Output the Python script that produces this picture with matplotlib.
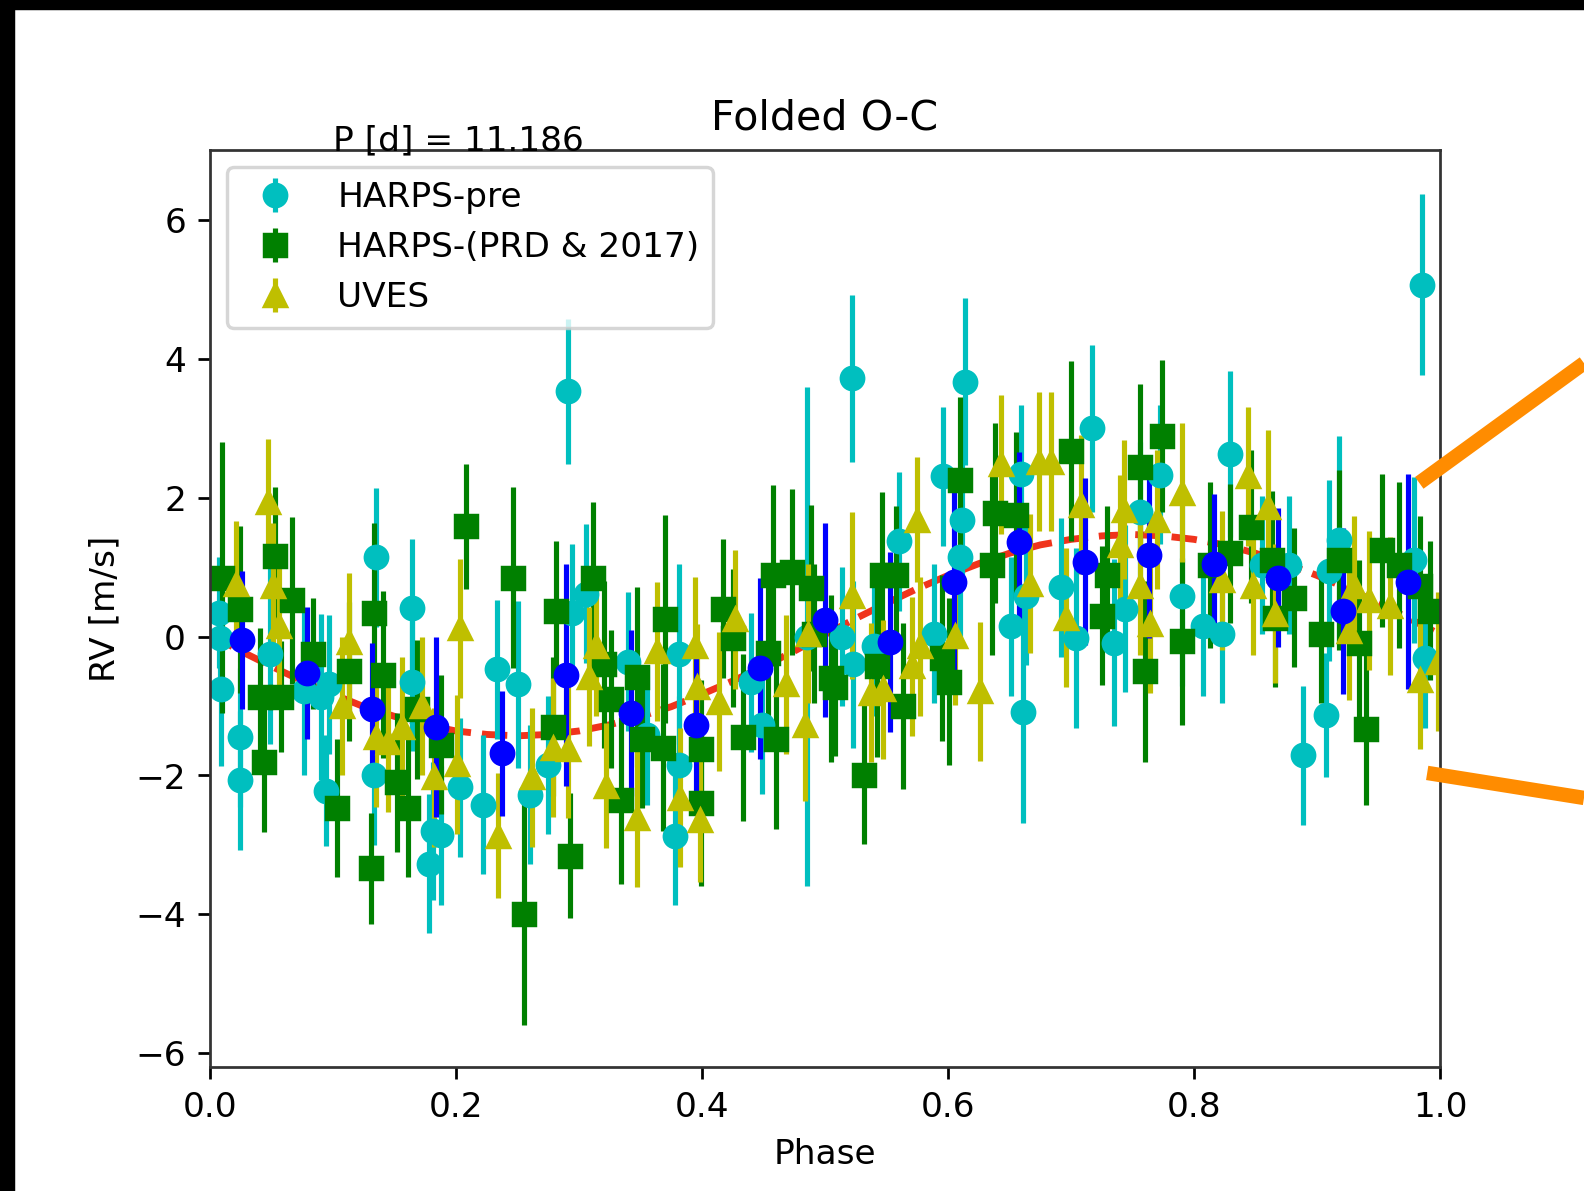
import numpy as np
import matplotlib
matplotlib.use("Agg")
import matplotlib.pyplot as plt
from matplotlib.patches import Rectangle
from matplotlib.lines import Line2D

# HARPS-pre (phase, O-C rv, error)
harps_pre_phase = [0.007, 0.008, 0.009, 0.024, 0.024, 0.049, 0.076, 0.090, 0.097, 0.094,
                   0.135, 0.133, 0.164, 0.164, 0.181, 0.188, 0.178, 0.203, 0.222, 0.233,
                   0.250, 0.260, 0.275, 0.291, 0.294, 0.306, 0.340, 0.355, 0.378, 0.381,
                   0.381, 0.440, 0.449, 0.485, 0.514, 0.523, 0.522, 0.540, 0.560, 0.589,
                   0.596, 0.611, 0.610, 0.614, 0.651, 0.661, 0.663, 0.659, 0.692, 0.704,
                   0.717, 0.735, 0.744, 0.756, 0.772, 0.790, 0.807, 0.823, 0.829, 0.855,
                   0.877, 0.889, 0.907, 0.910, 0.918, 0.979, 0.985, 0.988]
harps_pre_rv = [0.34, -0.02, -0.76, -1.45, -2.07, -0.25, -0.79, -0.87, -0.69, -2.22,
                1.14, -2.00, 0.41, -0.65, -2.80, -2.86, -3.27, -2.17, -2.42, -0.47,
                -0.69, -2.28, -1.85, 3.53, 0.34, 0.62, -0.36, -1.42, -2.87, -0.25,
                -1.85, -0.66, -1.27, 0.00, 0.00, -0.40, 3.72, -0.14, 1.37, 0.04,
                2.31, 1.68, 1.14, 3.67, 0.15, -1.08, 0.59, 2.34, 0.71, -0.02,
                3.00, -0.09, 0.40, 1.80, 2.33, 0.59, 0.15, 0.04, 2.63, 1.03,
                1.03, -1.71, -1.13, 0.95, 1.39, 1.10, 5.07, -0.31]
harps_pre_err = [0.8, 0.8, 1.1, 1.0, 1.0, 1.3, 1.2, 1.2, 1.0, 0.8,
                 1.0, 1.0, 1.0, 1.0, 1.0, 1.0, 1.0, 1.0, 1.0, 1.0,
                 1.2, 1.0, 1.0, 1.05, 1.0, 1.0, 1.0, 1.0, 1.0, 1.3,
                 1.0, 1.0, 1.0, 3.6, 1.0, 1.2, 1.2, 1.0, 1.0, 1.0,
                 1.0, 1.0, 1.2, 1.2, 1.0, 1.6, 1.0, 1.0, 1.0, 1.3,
                 1.2, 1.2, 1.2, 1.0, 1.0, 1.3, 1.0, 1.0, 1.2, 1.0,
                 1.0, 1.0, 0.9, 1.3, 1.5, 1.2, 1.3, 1.0]

# HARPS-(PRD & 2017)
harps_new_phase = [0.010, 0.024, 0.041, 0.044, 0.053, 0.058, 0.067, 0.084, 0.103, 0.113,
                   0.131, 0.133, 0.141, 0.152, 0.161, 0.168, 0.188, 0.208, 0.246, 0.255,
                   0.279, 0.281, 0.293, 0.311, 0.320, 0.326, 0.334, 0.347, 0.351, 0.368,
                   0.370, 0.399, 0.399, 0.417, 0.425, 0.433, 0.454, 0.458, 0.460, 0.473,
                   0.489, 0.491, 0.505, 0.508, 0.532, 0.542, 0.546, 0.558, 0.563, 0.595,
                   0.601, 0.610, 0.636, 0.638, 0.655, 0.700, 0.725, 0.729, 0.756, 0.760,
                   0.774, 0.790, 0.813, 0.829, 0.846, 0.863, 0.866, 0.881, 0.903, 0.918,
                   0.934, 0.940, 0.953, 0.967, 0.984, 0.992]
harps_new_rv = [0.85, 0.39, -0.87, -1.81, 1.16, -0.87, 0.52, -0.25, -2.47, -0.50,
                -3.34, 0.34, -0.55, -2.10, -2.47, -1.05, -1.56, 1.59, 0.85, -3.99,
                -1.30, 0.37, -3.16, 0.84, -0.40, -0.90, -2.36, -0.58, -1.47, -1.60,
                0.25, -1.62, -2.40, 0.40, -0.02, -1.45, -0.24, 0.88, -1.47, 0.93,
                0.70, 0.04, -0.60, -0.72, -1.99, -0.43, 0.88, 0.88, -1.00, -0.31,
                -0.65, 2.25, 1.03, 1.78, 1.75, 2.67, 0.30, 0.88, 2.44, -0.50,
                2.89, -0.07, 1.03, 1.20, 1.58, 1.10, 0.27, 0.56, 0.04, 1.10,
                -0.10, -1.33, 1.24, 1.03, 0.73, 0.37]
harps_new_err = [1.95, 1.2, 1.0, 1.0, 1.0, 0.8, 1.2, 0.8, 1.0, 1.0,
                 0.8, 1.3, 1.2, 1.0, 1.0, 1.0, 1.0, 0.9, 1.3, 1.6,
                 1.0, 1.0, 0.9, 1.1, 1.2, 1.0, 1.2, 1.3, 1.0, 1.2,
                 1.5, 1.0, 1.2, 1.0, 1.0, 1.2, 1.2, 1.3, 1.3, 1.2,
                 1.2, 1.0, 1.2, 1.0, 1.0, 1.3, 1.2, 1.0, 1.2, 1.2,
                 1.2, 1.2, 1.3, 1.3, 1.2, 1.3, 1.0, 1.0, 1.2, 1.3,
                 1.1, 1.2, 1.2, 1.0, 1.1, 1.0, 1.0, 1.0, 1.0, 1.3,
                 1.2, 1.1, 1.1, 1.2, 1.0, 1.0]

# UVES
uves_phase = [0.021, 0.047, 0.051, 0.056, 0.107, 0.113, 0.135, 0.145, 0.156, 0.172,
              0.182, 0.201, 0.203, 0.234, 0.262, 0.279, 0.291, 0.308, 0.314, 0.322,
              0.347, 0.363, 0.382, 0.394, 0.396, 0.398, 0.414, 0.427, 0.468, 0.484,
              0.486, 0.522, 0.537, 0.547, 0.571, 0.575, 0.577, 0.606, 0.626, 0.643,
              0.667, 0.674, 0.684, 0.696, 0.708, 0.740, 0.743, 0.756, 0.764, 0.770,
              0.790, 0.823, 0.844, 0.848, 0.860, 0.866, 0.926, 0.930, 0.942, 0.959,
              0.984, 0.998]
uves_rv = [0.76, 1.94, 0.73, 0.15, -1.00, -0.08, -1.45, -1.52, -1.30, -1.00,
           -2.03, -1.84, 0.12, -2.87, -2.03, -1.60, -1.62, -0.58, -0.14, -2.15,
           -2.61, -0.21, -2.32, -0.14, -0.72, -2.64, -0.94, 0.25, -0.69, -1.27,
           0.04, 0.59, -0.81, -0.76, -0.43, 1.68, -0.14, 0.01, -0.79, 2.48,
           0.76, 2.52, 2.52, 0.27, 1.90, 1.32, 1.83, 0.73, 0.18, 1.68,
           2.07, 0.81, 2.31, 0.73, 1.87, 0.33, 0.08, 0.73, 0.52, 0.44,
           -0.62, -0.36]
uves_err = [0.9, 0.9, 0.9, 0.9, 1.0, 1.0, 1.0, 1.0, 1.0, 1.0,
            1.0, 1.0, 1.0, 0.9, 1.0, 1.0, 1.0, 1.0, 1.0, 0.9,
            1.0, 1.0, 1.0, 1.0, 0.9, 0.9, 1.0, 1.0, 1.0, 1.1,
            1.0, 1.2, 1.0, 1.0, 1.0, 0.9, 1.0, 1.0, 1.0, 1.0,
            1.0, 1.0, 1.0, 1.0, 1.0, 1.0, 1.0, 1.0, 1.0, 1.0,
            1.0, 1.0, 1.0, 1.0, 1.1, 1.0, 1.0, 1.0, 1.0, 1.0,
            1.0, 1.0]

# binned points
bin_phase = [0.026, 0.079, 0.132, 0.184, 0.237, 0.289, 0.342, 0.395, 0.447, 0.500,
             0.553, 0.605, 0.658, 0.711, 0.763, 0.816, 0.868, 0.921, 0.974]
bin_rv = [-0.05, -0.52, -1.05, -1.30, -1.68, -0.55, -1.10, -1.27, -0.46, 0.24,
          -0.08, 0.79, 1.36, 1.08, 1.18, 1.05, 0.85, 0.37, 0.79]
bin_err = [1.0, 0.95, 0.95, 1.3, 0.9, 1.6, 1.2, 1.1, 1.3, 1.4,
           1.3, 1.5, 1.3, 1.2, 1.2, 1.0, 1.0, 1.2, 1.55]

# keplerian model curve
model_phase = [0.0, 0.025, 0.05, 0.075, 0.1, 0.125, 0.15, 0.175, 0.2, 0.225,
               0.25, 0.275, 0.3, 0.325, 0.35, 0.375, 0.4, 0.425, 0.45, 0.475,
               0.5, 0.525, 0.55, 0.575, 0.6, 0.625, 0.65, 0.675, 0.7, 0.725,
               0.75, 0.775, 0.8, 0.825, 0.85, 0.875, 0.9, 0.925, 0.95, 0.975, 1.0]
model_rv = [0.03, -0.21, -0.43, -0.64, -0.83, -1.01, -1.15, -1.27, -1.36, -1.41,
            -1.43, -1.41, -1.36, -1.27, -1.15, -1.01, -0.83, -0.64, -0.43, -0.21,
            0.03, 0.26, 0.48, 0.69, 0.88, 1.05, 1.20, 1.32, 1.40, 1.45,
            1.47, 1.45, 1.40, 1.32, 1.20, 1.05, 0.88, 0.69, 0.48, 0.26, 0.03]

fig = plt.figure(figsize=(6.4, 4.8125), dpi=247.5)
ax = fig.add_axes([0.1326, 0.1041, 0.7765, 0.77])
for s in ax.spines.values():
    s.set_color('#333333')

ms = 6.5
ax.plot(model_phase, model_rv, '--', color='#f0341c', lw=2, zorder=1)
ax.errorbar(harps_pre_phase, harps_pre_rv, yerr=harps_pre_err, fmt='o', color='c',
            ms=ms, label='HARPS-pre')
ax.errorbar(harps_new_phase, harps_new_rv, yerr=harps_new_err, fmt='s', color='g',
            ms=ms, label='HARPS-(PRD & 2017)')
ax.errorbar(uves_phase, uves_rv, yerr=uves_err, fmt='^', color='y', ms=ms, label='UVES')
ax.errorbar(bin_phase, bin_rv, yerr=bin_err, fmt='o', color='b', ms=ms)

ax.set_xlim(0, 1)
ax.set_ylim(-6.2, 7.01)
ax.set_xlabel('Phase')
ax.set_ylabel('RV [m/s]')
ax.set_title('Folded O-C')
ax.text(0.1, 1.0, 'P [d] = 11.186', transform=ax.transAxes)
ax.legend(loc='upper left')

# screenshot border and annotation strokes
fig.patches.append(Rectangle((0, 0), 13 / 1584, 1, transform=fig.transFigure,
                             color='black', zorder=10))
fig.patches.append(Rectangle((0, 1 - 8 / 1191), 1, 8 / 1191, transform=fig.transFigure,
                             color='black', zorder=10))
fig.lines.append(Line2D([0.896, 1.0], [0.5945, 0.695], transform=fig.transFigure,
                        color='#ff8c00', lw=4.2, solid_capstyle='butt', zorder=10))
fig.lines.append(Line2D([0.901, 1.0], [0.351, 0.330], transform=fig.transFigure,
                        color='#ff8c00', lw=4.2, solid_capstyle='butt', zorder=10))

fig.savefig('out.png', dpi=247.5)
